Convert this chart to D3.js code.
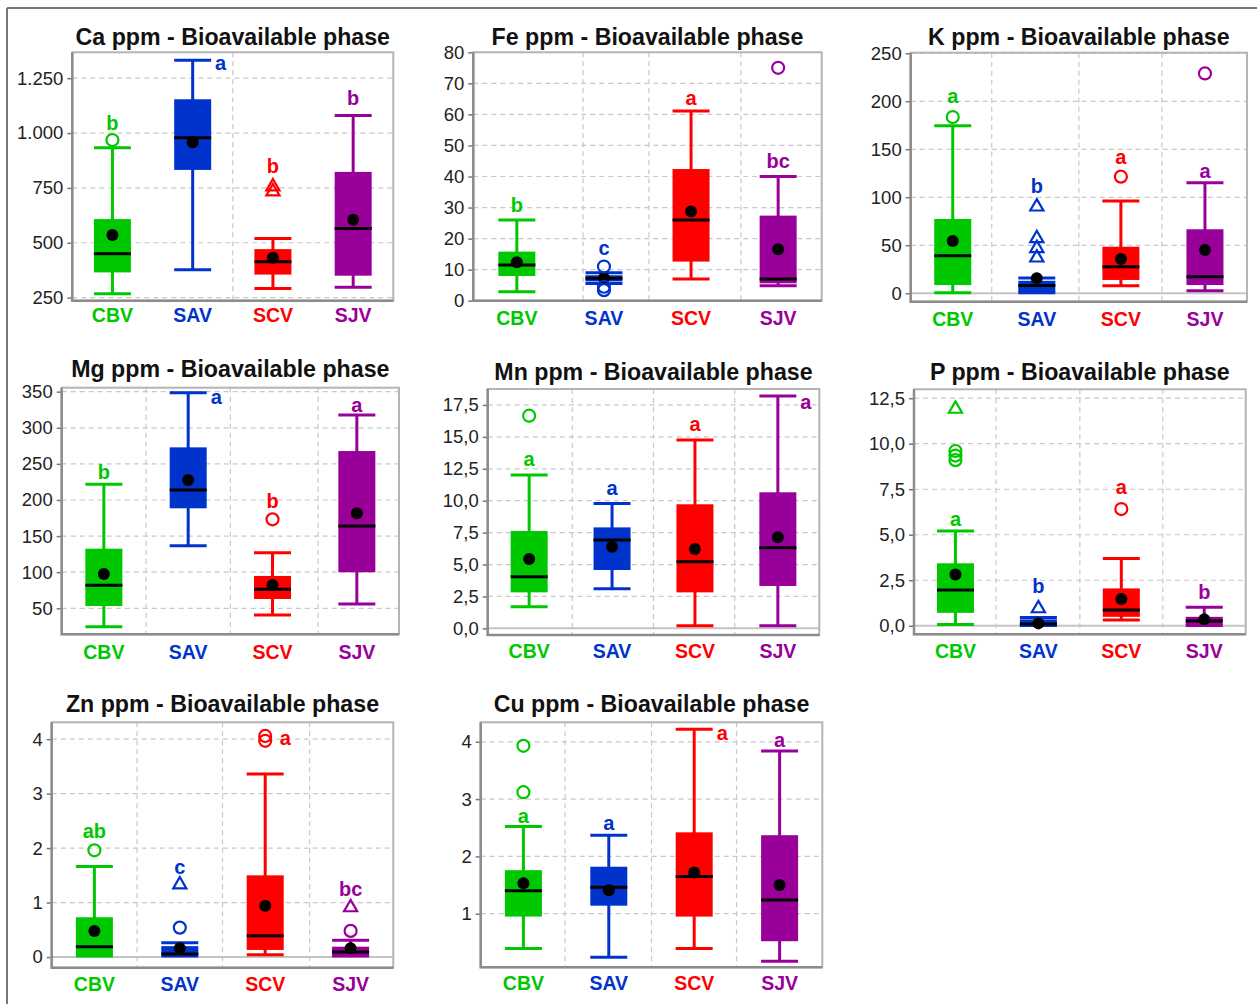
<!DOCTYPE html>
<html><head><meta charset="utf-8">
<script src="https://cdn.jsdelivr.net/npm/d3@7"></script>
<style>
html,body{margin:0;padding:0;background:#fff;}
svg{display:block;font-family:"Liberation Sans",Arial,sans-serif;}
</style></head>
<body><svg id="chart" width="1257" height="1004"></svg>
<script>
// ---------- DATA ----------
const categories = ["CBV", "SAV", "SCV", "SJV"];
const catColors = ["#00c800", "#0033cc", "#ff0000", "#990099"];

// box stats per category: [lower whisker, Q1, median, Q3, upper whisker]
const caBoxes = [[268, 365, 450, 608, 933], [377, 832, 979, 1154, 1332], [292, 355, 413, 471, 519], [297, 350, 565, 823, 1080]];
const caMeans = [535, 958, 432, 605];
const caOutliers = [[968], [], [], []];
const caExtremes = [[], [], [733, 756], []];
const caLetters = ["b", "a", "b", "b"];
const caLetterY = [1044, 1317, 851, 1158];
const caTicks = [250, 500, 750, 1000, 1250];

const feBoxes = [[2.9, 7.95, 11.5, 15.8, 26], [5.5, 6.2, 7.2, 8.2, 9.0], [7.0, 12.6, 26, 42.4, 61.1], [4.8, 5.6, 7.0, 27.4, 40]];
const feMeans = [12.4, 7.3, 28.7, 16.6];
const feOutliers = [[], [11, 4.5, 3.4], [], [75]];
const feExtremes = [[], [], [], []];
const feLetters = ["b", "c", "a", "bc"];
const feLetterY = [30.8, 17.1, 65.4, 45];
const feTicks = [0, 10, 20, 30, 40, 50, 60, 70, 80];

const kBoxes = [[0.6, 8.6, 39.2, 77.4, 174.6], [0.5, 1, 8, 13, 16], [7.9, 13.9, 27.7, 48.5, 96.1], [2.7, 8.6, 17.3, 66.7, 115.2]];
const kMeans = [54.5, 15.6, 35.7, 45.1];
const kOutliers = [[183.6], [], [121.5], [229]];
const kExtremes = [[], [90.2, 57.3, 46.9, 37.1], [], []];
const kLetters = ["a", "b", "a", "a"];
const kLetterY = [206, 112, 141.7, 127.7];
const kTicks = [0, 50, 100, 150, 200, 250];

const mgBoxes = [[24.6, 53.2, 81.8, 132.6, 221.7], [136.8, 188.5, 213.8, 272.9, 348.6], [40.8, 62.9, 76.3, 94.8, 127], [56, 99.9, 164, 267.8, 317.7]];
const mgMeans = [97.5, 227.7, 82.3, 181.5];
const mgOutliers = [[], [], [173.2], []];
const mgExtremes = [[], [], [], []];
const mgLetters = ["b", "a", "b", "a"];
const mgLetterY = [239.2, 342, 198.6, 331.5];
const mgTicks = [50, 100, 150, 200, 250, 300, 350];

const mnBoxes = [[1.7, 2.82, 4.05, 7.63, 12.01], [3.1, 4.57, 6.92, 7.91, 9.79], [0.21, 2.82, 5.22, 9.72, 14.76], [0.21, 3.32, 6.32, 10.66, 18.2]];
const mnMeans = [5.43, 6.4, 6.22, 7.13];
const mnOutliers = [[16.66], [], [], []];
const mnExtremes = [[], [], [], []];
const mnLetters = ["a", "a", "a", "a"];
const mnLetterY = [13.27, 11.02, 15.98, 17.7];
const mnTicks = [0, 2.5, 5, 7.5, 10, 12.5, 15, 17.5];

const pBoxes = [[0.07, 0.71, 1.96, 3.43, 5.2], [0.02, 0.05, 0.1, 0.35, 0.45], [0.31, 0.49, 0.86, 2.05, 3.7], [0.02, 0.04, 0.26, 0.49, 1.01]];
const pMeans = [2.82, 0.13, 1.47, 0.35];
const pOutliers = [[9.6, 9.35, 9.1], [], [6.41], []];
const pExtremes = [[11.91], [0.95], [], []];
const pLetters = ["a", "b", "a", "b"];
const pLetterY = [5.87, 2.18, 7.6, 1.83];
const pTicks = [0, 2.5, 5, 7.5, 10, 12.5];

const znBoxes = [[0.02, 0.02, 0.19, 0.73, 1.66], [0.02, 0.04, 0.055, 0.2, 0.26], [0.04, 0.13, 0.39, 1.5, 3.36], [0.02, 0.02, 0.09, 0.19, 0.31]];
const znMeans = [0.48, 0.16, 0.94, 0.16];
const znOutliers = [[1.96], [0.54], [4.06, 3.97], [0.48]];
const znExtremes = [[], [1.33], [], [0.91]];
const znLetters = ["ab", "c", "a", "bc"];
const znLetterY = [2.32, 1.66, 4.02, 1.25];
const znTicks = [0, 1, 2, 3, 4];

const cuBoxes = [[0.395, 0.95, 1.40, 1.76, 2.52], [0.24, 1.14, 1.46, 1.82, 2.37], [0.395, 0.95, 1.65, 2.42, 4.22], [0.17, 0.52, 1.24, 2.37, 3.84]];
const cuMeans = [1.53, 1.41, 1.72, 1.5];
const cuOutliers = [[3.93, 3.12], [], [], []];
const cuExtremes = [[], [], [], []];
const cuLetters = ["a", "a", "a", "a"];
const cuLetterY = [2.71, 2.58, 4.16, 4.03];
const cuTicks = [1, 2, 3, 4];

// ---------- FORMATS ----------
const loc = d3.formatLocale({decimal: ",", thousands: ".", grouping: [3], currency: ["", ""]});
const fmtInt = loc.format(",d");
const fmtDec = loc.format(",.1f");

// ---------- LAYOUT ----------
const panels = [
  {title: "Ca ppm - Bioavailable phase", boxes: caBoxes, means: caMeans, outliers: caOutliers, extremes: caExtremes, letters: caLetters, letterY: caLetterY, ticks: caTicks,
   x: [72.3, 393.3], y: [52.3, 300.7], domain: [236, 1368], titleY: 45, vgrid: [0.5], zero: false, fmt: fmtInt, side: ["c", "r", "c", "c"], labGap: 21},
  {title: "Fe ppm - Bioavailable phase", boxes: feBoxes, means: feMeans, outliers: feOutliers, extremes: feExtremes, letters: feLetters, letterY: feLetterY, ticks: feTicks,
   x: [473.3, 821.7], y: [52.3, 300.7], domain: [0, 80], titleY: 45, vgrid: [0.315, 0.504, 0.768], zero: false, fmt: fmtInt, side: ["c", "c", "c", "c"], labGap: 24},
  {title: "K ppm - Bioavailable phase", boxes: kBoxes, means: kMeans, outliers: kOutliers, extremes: kExtremes, letters: kLetters, letterY: kLetterY, ticks: kTicks,
   x: [910.7, 1247], y: [52.7, 301.7], domain: [-8.75, 250.6], titleY: 45, vgrid: [0.241, 0.5, 0.747], zero: true, fmt: fmtInt, side: ["c", "c", "c", "c"], labGap: 24},
  {title: "Mg ppm - Bioavailable phase", boxes: mgBoxes, means: mgMeans, outliers: mgOutliers, extremes: mgExtremes, letters: mgLetters, letterY: mgLetterY, ticks: mgTicks,
   x: [61.7, 399], y: [387.7, 634.3], domain: [14, 355.5], titleY: 376.7, vgrid: [0.25, 0.5, 0.76], zero: false, fmt: fmtInt, side: ["c", "r", "c", "c"], labGap: 25},
  {title: "Mn ppm - Bioavailable phase", boxes: mnBoxes, means: mnMeans, outliers: mnOutliers, extremes: mnExtremes, letters: mnLetters, letterY: mnLetterY, ticks: mnTicks,
   x: [487.7, 819.3], y: [389, 635], domain: [-0.52, 18.75], titleY: 380, vgrid: [0.255, 0.5, 0.745], zero: true, fmt: fmtDec, side: ["c", "c", "c", "r"], labGap: 23},
  {title: "P ppm - Bioavailable phase", boxes: pBoxes, means: pMeans, outliers: pOutliers, extremes: pExtremes, letters: pLetters, letterY: pLetterY, ticks: pTicks,
   x: [914, 1245.7], y: [389.3, 634.3], domain: [-0.47, 12.99], titleY: 380, vgrid: [0.247, 0.5, 0.75], zero: true, fmt: fmtDec, side: ["c", "c", "c", "c"], labGap: 24},
  {title: "Zn ppm - Bioavailable phase", boxes: znBoxes, means: znMeans, outliers: znOutliers, extremes: znExtremes, letters: znLetters, letterY: znLetterY, ticks: znTicks,
   x: [51.7, 393.3], y: [722.3, 967.7], domain: [-0.196, 4.31], titleY: 711.7, vgrid: [0.25, 0.5, 0.755], zero: true, fmt: fmtInt, side: ["c", "c", "o", "c"], labGap: 23},
  {title: "Cu ppm - Bioavailable phase", boxes: cuBoxes, means: cuMeans, outliers: cuOutliers, extremes: cuExtremes, letters: cuLetters, letterY: cuLetterY, ticks: cuTicks,
   x: [480.7, 822.3], y: [722.3, 967.3], domain: [0.065, 4.34], titleY: 711.7, vgrid: [0.247, 0.5, 0.749], zero: false, fmt: fmtInt, side: ["c", "c", "r", "c"], labGap: 23}
];

const BOX_W = 37;
const svg = d3.select("#chart");

// outer frame
svg.append("line").attr("x1", 7).attr("x2", 1257).attr("y1", 8).attr("y2", 8).attr("stroke", "#777").attr("stroke-width", 2);
svg.append("line").attr("x1", 7).attr("x2", 7).attr("y1", 8).attr("y2", 1004).attr("stroke", "#777").attr("stroke-width", 2);

panels.forEach(p => {
  const g = svg.append("g");
  const x = d3.scaleBand().domain(categories).range(p.x).padding(0);
  const y = d3.scaleLinear().domain(p.domain).range([p.y[1], p.y[0]]);
  const cx = c => x(c) + x.bandwidth() / 2;
  const W = p.x[1] - p.x[0];

  g.append("rect").attr("x", p.x[0]).attr("y", p.y[0]).attr("width", W).attr("height", p.y[1] - p.y[0]).attr("fill", "#fff");

  g.selectAll(".hg").data(p.ticks.filter(t => !(p.zero && t === 0))).join("line")
    .attr("x1", p.x[0]).attr("x2", p.x[1]).attr("y1", d => y(d)).attr("y2", d => y(d))
    .attr("stroke", "#c8c8c8").attr("stroke-width", 1.2).attr("stroke-dasharray", "5,4");
  g.selectAll(".vg").data(p.vgrid).join("line")
    .attr("x1", f => p.x[0] + f * W).attr("x2", f => p.x[0] + f * W).attr("y1", p.y[0]).attr("y2", p.y[1])
    .attr("stroke", "#c8c8c8").attr("stroke-width", 1.2).attr("stroke-dasharray", "5,4");
  if (p.zero) {
    g.append("line").attr("x1", p.x[0]).attr("x2", p.x[1]).attr("y1", y(0)).attr("y2", y(0))
      .attr("stroke", "#c4c4c4").attr("stroke-width", 2);
  }

  g.append("rect").attr("x", p.x[0]).attr("y", p.y[0]).attr("width", W).attr("height", p.y[1] - p.y[0])
    .attr("fill", "none").attr("stroke", "#b4b4b4").attr("stroke-width", 2);
  g.append("path").attr("d", `M${p.x[0]},${p.y[0]}V${p.y[1]}H${p.x[1]}`)
    .attr("fill", "none").attr("stroke", "#8c8c8c").attr("stroke-width", 2.5);

  const ya = g.append("g").attr("transform", `translate(${p.x[0] - 1},0)`)
    .call(d3.axisLeft(y).tickValues(p.ticks).tickSize(4).tickPadding(4).tickFormat(p.fmt));
  ya.select(".domain").remove();
  ya.selectAll(".tick line").attr("stroke", "#777").attr("stroke-width", 1.5);
  ya.selectAll(".tick text").attr("font-size", 18.5).attr("fill", "#222")
    .attr("font-family", "'Liberation Sans',Arial,sans-serif");

  const xa = g.append("g").attr("transform", `translate(0,${p.y[1]})`)
    .call(d3.axisBottom(x).tickSize(0).tickPadding(0));
  xa.select(".domain").remove();
  xa.selectAll(".tick text").attr("dy", 0).attr("y", p.labGap).attr("font-size", 19.5)
    .attr("font-weight", "bold").attr("font-family", "'Liberation Sans',Arial,sans-serif")
    .attr("fill", (d, i) => catColors[i]);

  g.append("text").attr("x", (p.x[0] + p.x[1]) / 2).attr("y", p.titleY).attr("text-anchor", "middle")
    .attr("font-size", 23.2).attr("font-weight", "bold").attr("fill", "#111").text(p.title);

  categories.forEach((c, i) => {
    const col = catColors[i];
    const [lo, q1, md, q3, hi] = p.boxes[i];
    const xc = cx(c);
    const bg = g.append("g");
    bg.append("line").attr("x1", xc).attr("x2", xc).attr("y1", y(lo)).attr("y2", y(hi))
      .attr("stroke", col).attr("stroke-width", 3);
    [lo, hi].forEach(v => bg.append("line").attr("x1", xc - BOX_W / 2).attr("x2", xc + BOX_W / 2)
      .attr("y1", y(v)).attr("y2", y(v)).attr("stroke", col).attr("stroke-width", 3));
    bg.append("rect").attr("x", xc - BOX_W / 2).attr("width", BOX_W)
      .attr("y", y(q3)).attr("height", Math.max(1, y(q1) - y(q3))).attr("fill", col);
    bg.append("line").attr("x1", xc - BOX_W / 2).attr("x2", xc + BOX_W / 2)
      .attr("y1", y(md)).attr("y2", y(md)).attr("stroke", "#000").attr("stroke-width", 3);
    bg.append("circle").attr("cx", xc).attr("cy", y(p.means[i])).attr("r", 6).attr("fill", "#000");
    p.outliers[i].forEach(v => bg.append("circle").attr("cx", xc).attr("cy", y(v)).attr("r", 6)
      .attr("fill", "none").attr("stroke", col).attr("stroke-width", 2.2));
    p.extremes[i].forEach(v => bg.append("path")
      .attr("d", d3.symbol().type(d3.symbolTriangle).size(75)())
      .attr("transform", `translate(${xc},${y(v)})`)
      .attr("fill", "none").attr("stroke", col).attr("stroke-width", 2.2));
    const dx = p.side[i] === "r" ? 28 : (p.side[i] === "o" ? 20 : 0);
    bg.append("text").attr("x", xc + dx).attr("y", y(p.letterY[i])).attr("dy", "0.35em")
      .attr("text-anchor", "middle").attr("font-size", 20).attr("font-weight", "bold")
      .attr("fill", col).text(p.letters[i]);
  });
});
</script>
</body></html>
